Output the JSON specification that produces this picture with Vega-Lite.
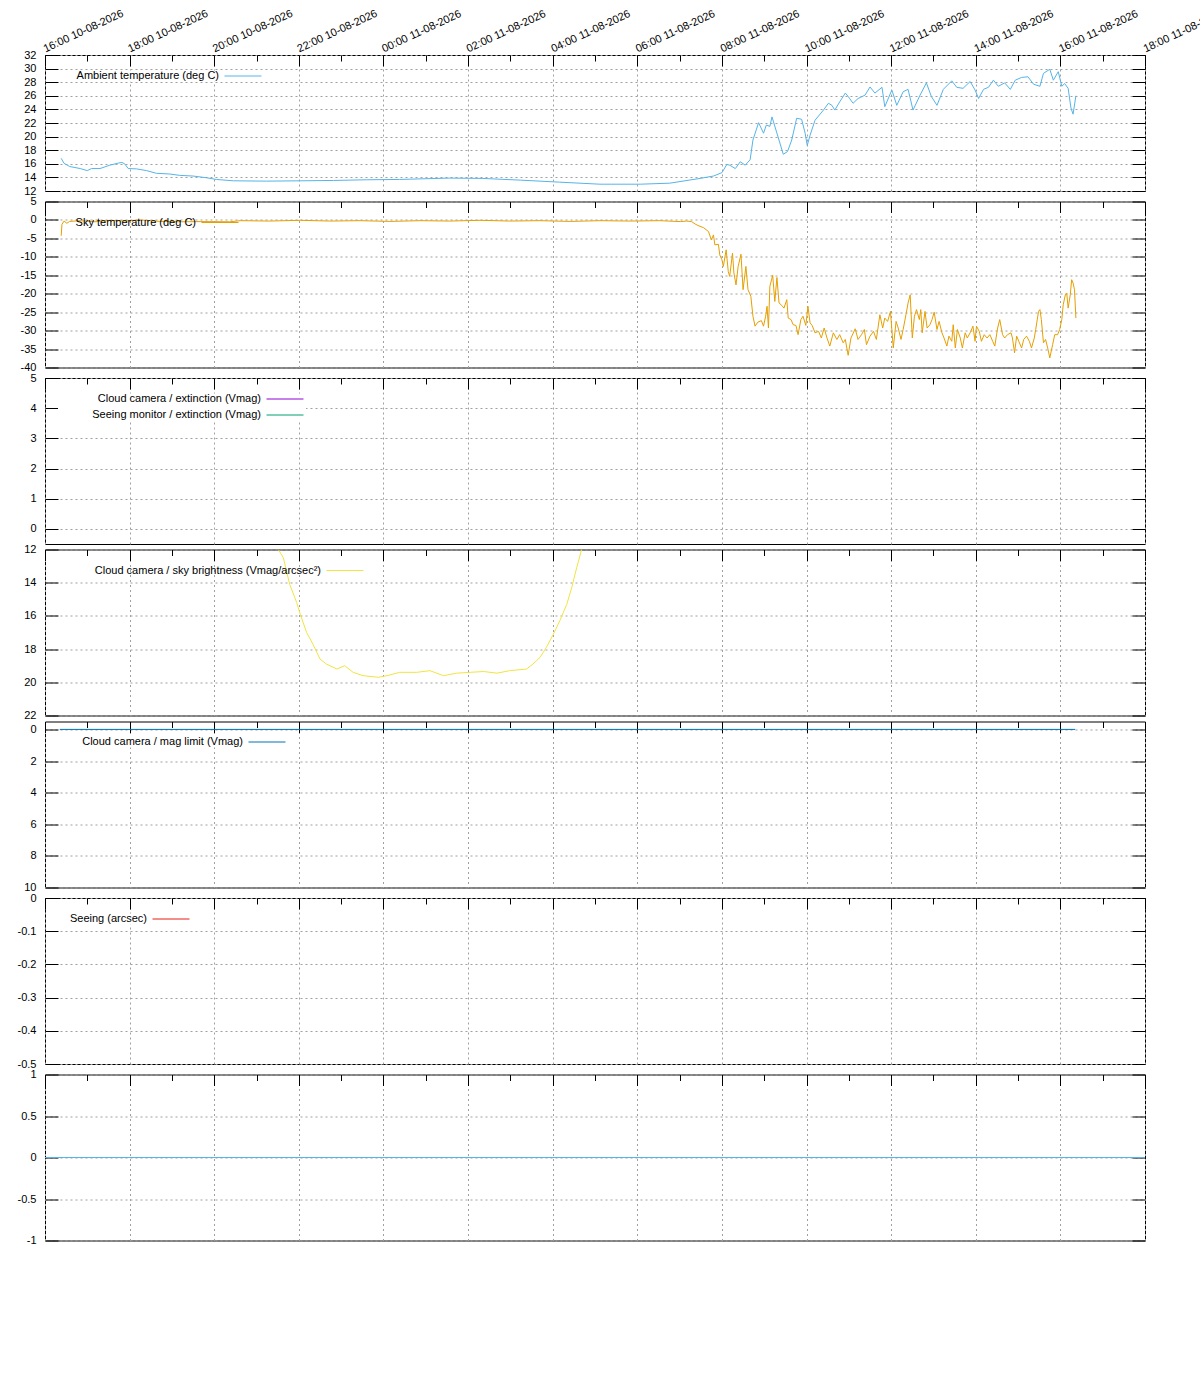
{
"$schema": "https://vega.github.io/schema/vega-lite/v6.json",
"background": "white",
"padding": {"left": 16, "top": 6, "right": 5, "bottom": 5},
"spacing": -2.5,
"resolve": {"scale": {"color": "independent", "x": "independent", "y": "independent"}, "legend": {"color": "independent"}},
"config": {
  "font": "Liberation Sans",
  "view": {"stroke": "black", "strokeWidth": 1},
  "axis": {"domain": false, "labelFont": "Liberation Sans", "labelFontSize": 11, "labelColor": "black", "tickColor": "black", "tickWidth": 1, "gridColor": "#a0a0a0", "gridDash": [2, 3], "gridWidth": 1},
  "legend": {"symbolType": "M-1,0H11.33", "symbolSize": 36, "symbolStrokeWidth": 1, "labelFont": "Liberation Sans", "labelFontSize": 11, "labelColor": "black", "labelAlign": "right", "labelOffset": -14, "labelLimit": 400, "rowPadding": 4, "padding": 0}
},
"datasets": {
  "ambient": [
    {"t":"2026-08-10T16:23","v":16.8},{"t":"2026-08-10T16:27","v":16.07},{"t":"2026-08-10T16:35","v":15.6},{"t":"2026-08-10T16:50","v":15.3},{"t":"2026-08-10T17:00","v":15.0},{"t":"2026-08-10T17:06","v":15.3},{"t":"2026-08-10T17:18","v":15.3},{"t":"2026-08-10T17:32","v":15.8},{"t":"2026-08-10T17:44","v":16.1},{"t":"2026-08-10T17:49","v":16.2},{"t":"2026-08-10T17:53","v":16.0},{"t":"2026-08-10T17:58","v":15.3},{"t":"2026-08-10T18:10","v":15.25},{"t":"2026-08-10T18:24","v":15.0},{"t":"2026-08-10T18:38","v":14.6},{"t":"2026-08-10T18:57","v":14.5},{"t":"2026-08-10T19:11","v":14.3},{"t":"2026-08-10T19:30","v":14.2},{"t":"2026-08-10T19:49","v":13.95},{"t":"2026-08-10T20:03","v":13.7},{"t":"2026-08-10T20:27","v":13.5},{"t":"2026-08-10T21:14","v":13.45},{"t":"2026-08-10T22:02","v":13.5},{"t":"2026-08-10T22:49","v":13.55},{"t":"2026-08-10T23:36","v":13.65},
    {"t":"2026-08-11T00:23","v":13.7},{"t":"2026-08-11T01:34","v":13.9},{"t":"2026-08-11T02:20","v":13.85},{"t":"2026-08-11T03:14","v":13.6},{"t":"2026-08-11T04:10","v":13.3},{"t":"2026-08-11T05:07","v":13.0},{"t":"2026-08-11T06:04","v":13.0},{"t":"2026-08-11T06:46","v":13.15},{"t":"2026-08-11T07:29","v":13.85},{"t":"2026-08-11T07:48","v":14.2},{"t":"2026-08-11T08:00","v":14.7},{"t":"2026-08-11T08:07","v":15.9},{"t":"2026-08-11T08:11","v":15.8},{"t":"2026-08-11T08:19","v":15.3},{"t":"2026-08-11T08:26","v":16.3},{"t":"2026-08-11T08:33","v":15.8},{"t":"2026-08-11T08:40","v":16.6},{"t":"2026-08-11T08:44","v":19.5},{"t":"2026-08-11T08:52","v":22.05},{"t":"2026-08-11T08:59","v":20.5},{"t":"2026-08-11T09:03","v":21.7},{"t":"2026-08-11T09:08","v":21.5},{"t":"2026-08-11T09:11","v":22.9},{"t":"2026-08-11T09:18","v":20.5},{"t":"2026-08-11T09:27","v":17.4},{"t":"2026-08-11T09:33","v":17.8},{"t":"2026-08-11T09:39","v":19.5},{"t":"2026-08-11T09:46","v":22.7},{"t":"2026-08-11T09:53","v":22.55},{"t":"2026-08-11T09:58","v":20.5},{"t":"2026-08-11T10:01","v":18.7},{"t":"2026-08-11T10:05","v":20.2},{"t":"2026-08-11T10:12","v":22.4},{"t":"2026-08-11T10:24","v":23.9},{"t":"2026-08-11T10:31","v":24.9},{"t":"2026-08-11T10:36","v":24.6},{"t":"2026-08-11T10:40","v":23.9},{"t":"2026-08-11T10:47","v":25.1},{"t":"2026-08-11T10:55","v":26.4},{"t":"2026-08-11T10:59","v":25.9},{"t":"2026-08-11T11:06","v":24.9},{"t":"2026-08-11T11:13","v":25.6},{"t":"2026-08-11T11:23","v":26.1},{"t":"2026-08-11T11:30","v":27.3},{"t":"2026-08-11T11:37","v":26.4},{"t":"2026-08-11T11:47","v":27.25},{"t":"2026-08-11T11:51","v":24.4},{"t":"2026-08-11T12:01","v":26.85},{"t":"2026-08-11T12:08","v":24.6},{"t":"2026-08-11T12:17","v":26.6},{"t":"2026-08-11T12:24","v":26.95},{"t":"2026-08-11T12:31","v":23.9},{"t":"2026-08-11T12:41","v":26.1},{"t":"2026-08-11T12:50","v":27.9},{"t":"2026-08-11T12:57","v":25.9},{"t":"2026-08-11T13:05","v":24.6},{"t":"2026-08-11T13:14","v":26.95},{"t":"2026-08-11T13:26","v":28.2},{"t":"2026-08-11T13:33","v":27.25},{"t":"2026-08-11T13:42","v":27.1},{"t":"2026-08-11T13:52","v":28.1},{"t":"2026-08-11T13:59","v":26.85},{"t":"2026-08-11T14:04","v":25.6},{"t":"2026-08-11T14:11","v":26.95},{"t":"2026-08-11T14:18","v":27.25},{"t":"2026-08-11T14:25","v":28.3},{"t":"2026-08-11T14:32","v":27.4},{"t":"2026-08-11T14:41","v":27.9},{"t":"2026-08-11T14:49","v":26.95},{"t":"2026-08-11T14:56","v":28.3},{"t":"2026-08-11T15:05","v":28.7},{"t":"2026-08-11T15:14","v":28.8},{"t":"2026-08-11T15:22","v":27.7},{"t":"2026-08-11T15:31","v":27.4},{"t":"2026-08-11T15:36","v":29.3},{"t":"2026-08-11T15:45","v":29.9},{"t":"2026-08-11T15:50","v":28.3},{"t":"2026-08-11T15:57","v":29.55},{"t":"2026-08-11T16:02","v":27.4},{"t":"2026-08-11T16:06","v":27.8},{"t":"2026-08-11T16:11","v":27.1},{"t":"2026-08-11T16:15","v":24.2},{"t":"2026-08-11T16:18","v":23.3},{"t":"2026-08-11T16:22","v":26.0}
  ],
  "sky": [
    {"t":"2026-08-10T16:23","v":-4.3},{"t":"2026-08-10T16:24","v":-1.2},{"t":"2026-08-10T16:27","v":-0.3},{"t":"2026-08-10T16:31","v":-0.9},{"t":"2026-08-10T16:35","v":-0.4},{"t":"2026-08-10T16:50","v":-0.2},{"t":"2026-08-10T17:11","v":-0.5},{"t":"2026-08-10T17:32","v":-0.1},{"t":"2026-08-10T17:53","v":-0.3},{"t":"2026-08-10T18:15","v":0.0},{"t":"2026-08-10T18:43","v":-0.4},{"t":"2026-08-10T19:11","v":-0.5},{"t":"2026-08-10T19:40","v":-0.45},{"t":"2026-08-10T20:22","v":-0.5},{"t":"2026-08-10T20:37","v":-0.2},{"t":"2026-08-10T21:19","v":-0.3},{"t":"2026-08-10T22:02","v":-0.1},{"t":"2026-08-10T22:44","v":-0.3},{"t":"2026-08-10T23:27","v":-0.2},
    {"t":"2026-08-11T00:09","v":-0.4},{"t":"2026-08-11T00:52","v":-0.2},{"t":"2026-08-11T01:34","v":-0.3},{"t":"2026-08-11T02:17","v":-0.1},{"t":"2026-08-11T02:59","v":-0.3},{"t":"2026-08-11T03:42","v":-0.2},{"t":"2026-08-11T04:25","v":-0.4},{"t":"2026-08-11T05:07","v":-0.2},{"t":"2026-08-11T05:50","v":-0.3},{"t":"2026-08-11T06:32","v":-0.2},{"t":"2026-08-11T07:01","v":-0.45},{"t":"2026-08-11T07:10","v":-0.3},{"t":"2026-08-11T07:17","v":-0.45},{"t":"2026-08-11T07:22","v":-1.1},{"t":"2026-08-11T07:26","v":-1.5},{"t":"2026-08-11T07:34","v":-2.1},{"t":"2026-08-11T07:41","v":-3.15},{"t":"2026-08-11T07:45","v":-5.4},{"t":"2026-08-11T07:48","v":-4.05},{"t":"2026-08-11T07:50","v":-6.75},{"t":"2026-08-11T07:55","v":-6.6},{"t":"2026-08-11T07:57","v":-9.5},{"t":"2026-08-11T08:00","v":-10.8},{"t":"2026-08-11T08:02","v":-12.6},{"t":"2026-08-11T08:06","v":-8.1},{"t":"2026-08-11T08:09","v":-14.0},{"t":"2026-08-11T08:11","v":-15.3},{"t":"2026-08-11T08:15","v":-9.0},{"t":"2026-08-11T08:17","v":-14.4},{"t":"2026-08-11T08:20","v":-17.6},{"t":"2026-08-11T08:23","v":-12.6},{"t":"2026-08-11T08:27","v":-9.3},{"t":"2026-08-11T08:30","v":-18.9},{"t":"2026-08-11T08:34","v":-12.6},{"t":"2026-08-11T08:37","v":-18.9},{"t":"2026-08-11T08:41","v":-20.7},{"t":"2026-08-11T08:44","v":-26.1},{"t":"2026-08-11T08:47","v":-28.8},{"t":"2026-08-11T08:51","v":-27.7},{"t":"2026-08-11T08:56","v":-27.3},{"t":"2026-08-11T08:59","v":-28.8},{"t":"2026-08-11T09:02","v":-26.1},{"t":"2026-08-11T09:04","v":-23.4},{"t":"2026-08-11T09:06","v":-29.3},{"t":"2026-08-11T09:08","v":-18.0},{"t":"2026-08-11T09:12","v":-15.0},{"t":"2026-08-11T09:15","v":-22.1},{"t":"2026-08-11T09:18","v":-15.6},{"t":"2026-08-11T09:21","v":-22.5},{"t":"2026-08-11T09:25","v":-23.2},{"t":"2026-08-11T09:28","v":-23.9},{"t":"2026-08-11T09:32","v":-21.6},{"t":"2026-08-11T09:34","v":-26.6},{"t":"2026-08-11T09:38","v":-27.0},{"t":"2026-08-11T09:41","v":-28.4},{"t":"2026-08-11T09:45","v":-28.6},{"t":"2026-08-11T09:48","v":-31.1},{"t":"2026-08-11T09:52","v":-27.0},{"t":"2026-08-11T09:55","v":-26.1},{"t":"2026-08-11T09:59","v":-28.6},{"t":"2026-08-11T10:02","v":-23.4},{"t":"2026-08-11T10:05","v":-27.9},{"t":"2026-08-11T10:08","v":-28.6},{"t":"2026-08-11T10:12","v":-30.6},{"t":"2026-08-11T10:17","v":-30.2},{"t":"2026-08-11T10:21","v":-32.0},{"t":"2026-08-11T10:25","v":-29.3},{"t":"2026-08-11T10:29","v":-32.0},{"t":"2026-08-11T10:33","v":-34.2},{"t":"2026-08-11T10:38","v":-30.6},{"t":"2026-08-11T10:43","v":-32.4},{"t":"2026-08-11T10:47","v":-31.1},{"t":"2026-08-11T10:52","v":-33.3},{"t":"2026-08-11T10:55","v":-32.4},{"t":"2026-08-11T10:59","v":-36.7},{"t":"2026-08-11T11:03","v":-32.0},{"t":"2026-08-11T11:09","v":-29.5},{"t":"2026-08-11T11:13","v":-32.4},{"t":"2026-08-11T11:18","v":-31.1},{"t":"2026-08-11T11:22","v":-29.7},{"t":"2026-08-11T11:25","v":-33.8},{"t":"2026-08-11T11:30","v":-31.5},{"t":"2026-08-11T11:35","v":-30.2},{"t":"2026-08-11T11:39","v":-32.4},{"t":"2026-08-11T11:44","v":-25.7},{"t":"2026-08-11T11:48","v":-29.3},{"t":"2026-08-11T11:51","v":-26.6},{"t":"2026-08-11T11:55","v":-27.5},{"t":"2026-08-11T11:59","v":-24.8},{"t":"2026-08-11T12:03","v":-34.7},{"t":"2026-08-11T12:07","v":-27.5},{"t":"2026-08-11T12:10","v":-29.3},
    {"t":"2026-08-11T12:14","v":-32.4},{"t":"2026-08-11T12:17","v":-29.7},{"t":"2026-08-11T12:21","v":-25.7},{"t":"2026-08-11T12:24","v":-22.5},{"t":"2026-08-11T12:27","v":-20.3},{"t":"2026-08-11T12:30","v":-32.0},{"t":"2026-08-11T12:33","v":-26.1},{"t":"2026-08-11T12:36","v":-24.3},{"t":"2026-08-11T12:40","v":-27.0},{"t":"2026-08-11T12:42","v":-24.3},{"t":"2026-08-11T12:44","v":-30.6},{"t":"2026-08-11T12:48","v":-24.8},{"t":"2026-08-11T12:51","v":-29.3},{"t":"2026-08-11T12:55","v":-28.4},{"t":"2026-08-11T12:58","v":-27.0},{"t":"2026-08-11T13:01","v":-25.0},{"t":"2026-08-11T13:05","v":-29.7},{"t":"2026-08-11T13:08","v":-27.5},{"t":"2026-08-11T13:12","v":-30.6},{"t":"2026-08-11T13:15","v":-32.0},{"t":"2026-08-11T13:19","v":-34.2},{"t":"2026-08-11T13:22","v":-31.5},{"t":"2026-08-11T13:26","v":-32.9},{"t":"2026-08-11T13:28","v":-28.4},{"t":"2026-08-11T13:31","v":-34.7},{"t":"2026-08-11T13:34","v":-29.7},{"t":"2026-08-11T13:38","v":-32.0},{"t":"2026-08-11T13:41","v":-34.7},{"t":"2026-08-11T13:45","v":-30.6},{"t":"2026-08-11T13:48","v":-32.0},{"t":"2026-08-11T13:52","v":-30.6},{"t":"2026-08-11T13:56","v":-28.8},{"t":"2026-08-11T13:59","v":-32.9},{"t":"2026-08-11T14:01","v":-28.8},{"t":"2026-08-11T14:05","v":-30.2},{"t":"2026-08-11T14:08","v":-32.9},{"t":"2026-08-11T14:12","v":-31.1},{"t":"2026-08-11T14:16","v":-32.0},{"t":"2026-08-11T14:20","v":-31.1},{"t":"2026-08-11T14:24","v":-32.9},{"t":"2026-08-11T14:27","v":-34.2},{"t":"2026-08-11T14:31","v":-29.3},{"t":"2026-08-11T14:34","v":-27.0},{"t":"2026-08-11T14:38","v":-31.1},{"t":"2026-08-11T14:41","v":-32.0},{"t":"2026-08-11T14:45","v":-31.1},{"t":"2026-08-11T14:50","v":-30.6},{"t":"2026-08-11T14:52","v":-32.0},{"t":"2026-08-11T14:55","v":-36.0},{"t":"2026-08-11T14:58","v":-31.5},{"t":"2026-08-11T15:01","v":-32.9},{"t":"2026-08-11T15:05","v":-34.7},{"t":"2026-08-11T15:08","v":-32.4},{"t":"2026-08-11T15:12","v":-31.5},{"t":"2026-08-11T15:16","v":-32.9},{"t":"2026-08-11T15:19","v":-34.7},{"t":"2026-08-11T15:23","v":-32.0},{"t":"2026-08-11T15:25","v":-29.7},{"t":"2026-08-11T15:29","v":-24.8},{"t":"2026-08-11T15:31","v":-24.3},{"t":"2026-08-11T15:33","v":-27.0},{"t":"2026-08-11T15:36","v":-33.3},{"t":"2026-08-11T15:39","v":-32.4},{"t":"2026-08-11T15:42","v":-34.7},{"t":"2026-08-11T15:45","v":-37.4},{"t":"2026-08-11T15:49","v":-33.8},{"t":"2026-08-11T15:52","v":-31.1},{"t":"2026-08-11T15:56","v":-31.1},{"t":"2026-08-11T15:59","v":-29.7},{"t":"2026-08-11T16:02","v":-27.0},{"t":"2026-08-11T16:04","v":-23.0},{"t":"2026-08-11T16:07","v":-20.3},{"t":"2026-08-11T16:09","v":-19.8},{"t":"2026-08-11T16:11","v":-23.9},{"t":"2026-08-11T16:14","v":-20.3},{"t":"2026-08-11T16:16","v":-16.2},{"t":"2026-08-11T16:18","v":-17.1},{"t":"2026-08-11T16:20","v":-18.9},{"t":"2026-08-11T16:22","v":-26.6}
  ],
  "bright": [
    {"t":"2026-08-10T21:31","v":12.0},{"t":"2026-08-10T21:38","v":12.5},{"t":"2026-08-10T21:47","v":14.1},{"t":"2026-08-10T21:57","v":15.2},{"t":"2026-08-10T22:02","v":15.9},{"t":"2026-08-10T22:11","v":17.0},{"t":"2026-08-10T22:20","v":17.7},{"t":"2026-08-10T22:30","v":18.6},{"t":"2026-08-10T22:39","v":18.9},{"t":"2026-08-10T22:54","v":19.2},{"t":"2026-08-10T23:05","v":19.0},{"t":"2026-08-10T23:17","v":19.4},{"t":"2026-08-10T23:31","v":19.6},{"t":"2026-08-10T23:53","v":19.7},{"t":"2026-08-11T00:05","v":19.6},{"t":"2026-08-11T00:23","v":19.4},{"t":"2026-08-11T00:47","v":19.4},{"t":"2026-08-11T01:06","v":19.3},{"t":"2026-08-11T01:25","v":19.6},{"t":"2026-08-11T01:44","v":19.45},{"t":"2026-08-11T02:03","v":19.4},{"t":"2026-08-11T02:22","v":19.35},{"t":"2026-08-11T02:41","v":19.45},{"t":"2026-08-11T02:59","v":19.3},{"t":"2026-08-11T03:23","v":19.2},{"t":"2026-08-11T03:32","v":18.9},{"t":"2026-08-11T03:42","v":18.5},{"t":"2026-08-11T03:51","v":17.9},{"t":"2026-08-11T04:01","v":17.1},{"t":"2026-08-11T04:10","v":16.3},{"t":"2026-08-11T04:20","v":15.3},{"t":"2026-08-11T04:27","v":14.3},{"t":"2026-08-11T04:34","v":13.1},{"t":"2026-08-11T04:41","v":12.0}
  ],
  "maglim": [
    {"t":"2026-08-10T16:21","v":0},{"t":"2026-08-11T16:21","v":0}
  ],
  "nodata": [
    {"t":"2026-08-10T16:00","v":null}
  ],
  "zero7": [
    {"t":"2026-08-10T16:00","v":0},{"t":"2026-08-11T18:00","v":0}
  ]
},
"vconcat": [
  {
    "width": 1100, "height": 136,
    "data": {"name": "ambient"},
    "layer": [
      {"mark": {"type": "line", "strokeWidth": 1, "clip": true},
       "encoding": {
         "x": {"field": "t", "type": "temporal", "scale": {"domain": [{"year":2026,"month":8,"date":10,"hours":16},{"year":2026,"month":8,"date":11,"hours":18}], "nice": false},
               "axis": {"orient": "top", "title": null, "values": [{"year":2026,"month":8,"date":10,"hours":16},{"year":2026,"month":8,"date":10,"hours":18},{"year":2026,"month":8,"date":10,"hours":20},{"year":2026,"month":8,"date":10,"hours":22},{"year":2026,"month":8,"date":11,"hours":0},{"year":2026,"month":8,"date":11,"hours":2},{"year":2026,"month":8,"date":11,"hours":4},{"year":2026,"month":8,"date":11,"hours":6},{"year":2026,"month":8,"date":11,"hours":8},{"year":2026,"month":8,"date":11,"hours":10},{"year":2026,"month":8,"date":11,"hours":12},{"year":2026,"month":8,"date":11,"hours":14},{"year":2026,"month":8,"date":11,"hours":16},{"year":2026,"month":8,"date":11,"hours":18}],
                        "format": "%H:%M %d-%m-%Y", "labelAngle": -25, "labelAlign": "left", "labelBaseline": "alphabetic", "labelPadding": 3, "tickSize": 11, "offset": -11, "grid": true, "labelOverlap": false, "labelFlush": false, "labelBound": false}},
         "y": {"field": "v", "type": "quantitative", "scale": {"domain": [12, 32], "nice": false, "zero": false},
               "axis": {"orient": "left", "title": null, "values": [12,14,16,18,20,22,24,26,28,30,32], "tickSize": 13, "offset": -13, "labelPadding": 9, "grid": true, "labelExpr": "'' + datum.value"}},
         "color": {"datum": "Ambient temperature (deg C)", "type": "nominal", "scale": {"domain": ["Ambient temperature (deg C)"], "range": ["#56b4e9"]},
               "legend": {"title": null, "orient": "none", "legendX": 13, "legendY": 15.5, "symbolOffset": 164, "fillColor": "white"}}
       }},
      {"mark": {"type": "line", "opacity": 0},
       "encoding": {
         "x": {"field": "t", "type": "temporal", "scale": {"domain": [{"year":2026,"month":8,"date":10,"hours":16},{"year":2026,"month":8,"date":11,"hours":18}], "nice": false},
               "axis": {"orient": "top", "title": null, "tickCount": 26, "tickSize": 6, "offset": -6, "labels": false, "grid": false}},
         "y": {"field": "v", "type": "quantitative", "scale": {"domain": [12, 32], "nice": false, "zero": false},
               "axis": {"orient": "right", "title": null, "values": [12,14,16,18,20,22,24,26,28,30,32], "tickSize": 13, "offset": -13, "labels": false, "grid": false}}
       }}
    ],
    "resolve": {"axis": {"x": "independent", "y": "independent"}}
  },
  {
    "width": 1100, "height": 166,
    "data": {"name": "sky"},
    "layer": [
      {"mark": {"type": "line", "strokeWidth": 1, "clip": true},
       "encoding": {
         "x": {"field": "t", "type": "temporal", "scale": {"domain": [{"year":2026,"month":8,"date":10,"hours":16},{"year":2026,"month":8,"date":11,"hours":18}], "nice": false},
               "axis": {"orient": "top", "title": null, "labels": false, "tickSize": 11, "offset": -11, "grid": true, "values": [{"year":2026,"month":8,"date":10,"hours":16},{"year":2026,"month":8,"date":10,"hours":18},{"year":2026,"month":8,"date":10,"hours":20},{"year":2026,"month":8,"date":10,"hours":22},{"year":2026,"month":8,"date":11,"hours":0},{"year":2026,"month":8,"date":11,"hours":2},{"year":2026,"month":8,"date":11,"hours":4},{"year":2026,"month":8,"date":11,"hours":6},{"year":2026,"month":8,"date":11,"hours":8},{"year":2026,"month":8,"date":11,"hours":10},{"year":2026,"month":8,"date":11,"hours":12},{"year":2026,"month":8,"date":11,"hours":14},{"year":2026,"month":8,"date":11,"hours":16},{"year":2026,"month":8,"date":11,"hours":18}]}},
         "y": {"field": "v", "type": "quantitative", "scale": {"domain": [-40, 5], "nice": false, "zero": false},
               "axis": {"orient": "left", "title": null, "values": [-40,-35,-30,-25,-20,-15,-10,-5,0,5], "tickSize": 13, "offset": -13, "labelPadding": 9, "grid": true, "labelExpr": "'' + datum.value"}},
         "color": {"datum": "Sky temperature (deg C)", "type": "nominal", "scale": {"domain": ["Sky temperature (deg C)"], "range": ["#e69f00"]},
               "legend": {"title": null, "orient": "none", "legendX": 13, "legendY": 15.5, "symbolOffset": 141}}
       }},
      {"mark": {"type": "line", "opacity": 0},
       "encoding": {
         "x": {"field": "t", "type": "temporal", "scale": {"domain": [{"year":2026,"month":8,"date":10,"hours":16},{"year":2026,"month":8,"date":11,"hours":18}], "nice": false},
               "axis": {"orient": "top", "title": null, "tickCount": 26, "tickSize": 6, "offset": -6, "labels": false, "grid": false}},
         "y": {"field": "v", "type": "quantitative", "scale": {"domain": [-40, 5], "nice": false, "zero": false},
               "axis": {"orient": "right", "title": null, "values": [-40,-35,-30,-25,-20,-15,-10,-5,0,5], "tickSize": 13, "offset": -13, "labels": false, "grid": false}}
       }}
    ],
    "resolve": {"axis": {"x": "independent", "y": "independent"}}
  },
  {
    "width": 1100, "height": 166,
    "data": {"name": "nodata"},
    "layer": [
      {"mark": {"type": "line", "strokeWidth": 1, "clip": true},
       "encoding": {
         "x": {"field": "t", "type": "temporal", "scale": {"domain": [{"year":2026,"month":8,"date":10,"hours":16},{"year":2026,"month":8,"date":11,"hours":18}], "nice": false},
               "axis": {"orient": "top", "title": null, "labels": false, "tickSize": 11, "offset": -11, "grid": true, "values": [{"year":2026,"month":8,"date":10,"hours":16},{"year":2026,"month":8,"date":10,"hours":18},{"year":2026,"month":8,"date":10,"hours":20},{"year":2026,"month":8,"date":10,"hours":22},{"year":2026,"month":8,"date":11,"hours":0},{"year":2026,"month":8,"date":11,"hours":2},{"year":2026,"month":8,"date":11,"hours":4},{"year":2026,"month":8,"date":11,"hours":6},{"year":2026,"month":8,"date":11,"hours":8},{"year":2026,"month":8,"date":11,"hours":10},{"year":2026,"month":8,"date":11,"hours":12},{"year":2026,"month":8,"date":11,"hours":14},{"year":2026,"month":8,"date":11,"hours":16},{"year":2026,"month":8,"date":11,"hours":18}]}},
         "y": {"field": "v", "type": "quantitative", "scale": {"domain": [-0.5, 5], "nice": false, "zero": false},
               "axis": {"orient": "left", "title": null, "values": [0,1,2,3,4,5], "tickSize": 13, "offset": -13, "labelPadding": 9, "grid": true, "labelExpr": "'' + datum.value"}},
         "color": {"field": "s", "type": "nominal", "scale": {"domain": ["Cloud camera / extinction (Vmag)", "Seeing monitor / extinction (Vmag)"], "range": ["#9400d3", "#009e73"]}, "sort": null,
               "legend": {"title": null, "orient": "none", "legendX": 13, "legendY": 15.5, "symbolOffset": 206, "fillColor": "white"}}
       }},
      {"mark": {"type": "line", "opacity": 0},
       "encoding": {
         "x": {"field": "t", "type": "temporal", "scale": {"domain": [{"year":2026,"month":8,"date":10,"hours":16},{"year":2026,"month":8,"date":11,"hours":18}], "nice": false},
               "axis": {"orient": "top", "title": null, "tickCount": 26, "tickSize": 6, "offset": -6, "labels": false, "grid": false}},
         "y": {"field": "v", "type": "quantitative", "scale": {"domain": [-0.5, 5], "nice": false, "zero": false},
               "axis": {"orient": "right", "title": null, "values": [0,1,2,3,4,5], "tickSize": 13, "offset": -13, "labels": false, "grid": false}}
       }}
    ],
    "resolve": {"axis": {"x": "independent", "y": "independent"}}
  },
  {
    "width": 1100, "height": 166,
    "data": {"name": "bright"},
    "layer": [
      {"mark": {"type": "line", "strokeWidth": 1, "clip": true},
       "encoding": {
         "x": {"field": "t", "type": "temporal", "scale": {"domain": [{"year":2026,"month":8,"date":10,"hours":16},{"year":2026,"month":8,"date":11,"hours":18}], "nice": false},
               "axis": {"orient": "top", "title": null, "labels": false, "tickSize": 11, "offset": -11, "grid": true, "values": [{"year":2026,"month":8,"date":10,"hours":16},{"year":2026,"month":8,"date":10,"hours":18},{"year":2026,"month":8,"date":10,"hours":20},{"year":2026,"month":8,"date":10,"hours":22},{"year":2026,"month":8,"date":11,"hours":0},{"year":2026,"month":8,"date":11,"hours":2},{"year":2026,"month":8,"date":11,"hours":4},{"year":2026,"month":8,"date":11,"hours":6},{"year":2026,"month":8,"date":11,"hours":8},{"year":2026,"month":8,"date":11,"hours":10},{"year":2026,"month":8,"date":11,"hours":12},{"year":2026,"month":8,"date":11,"hours":14},{"year":2026,"month":8,"date":11,"hours":16},{"year":2026,"month":8,"date":11,"hours":18}]}},
         "y": {"field": "v", "type": "quantitative", "scale": {"domain": [12, 22], "reverse": true, "nice": false, "zero": false},
               "axis": {"orient": "left", "title": null, "values": [12,14,16,18,20,22], "tickSize": 13, "offset": -13, "labelPadding": 9, "grid": true, "labelExpr": "'' + datum.value"}},
         "color": {"datum": "Cloud camera / sky brightness (Vmag/arcsec²)", "type": "nominal", "scale": {"domain": ["Cloud camera / sky brightness (Vmag/arcsec²)"], "range": ["#f0e442"]},
               "legend": {"title": null, "orient": "none", "legendX": 13, "legendY": 15.5, "symbolOffset": 266}}
       }},
      {"mark": {"type": "line", "opacity": 0},
       "encoding": {
         "x": {"field": "t", "type": "temporal", "scale": {"domain": [{"year":2026,"month":8,"date":10,"hours":16},{"year":2026,"month":8,"date":11,"hours":18}], "nice": false},
               "axis": {"orient": "top", "title": null, "tickCount": 26, "tickSize": 6, "offset": -6, "labels": false, "grid": false}},
         "y": {"field": "v", "type": "quantitative", "scale": {"domain": [12, 22], "reverse": true, "nice": false, "zero": false},
               "axis": {"orient": "right", "title": null, "values": [12,14,16,18,20,22], "tickSize": 13, "offset": -13, "labels": false, "grid": false}}
       }}
    ],
    "resolve": {"axis": {"x": "independent", "y": "independent"}}
  },
  {
    "width": 1100, "height": 166,
    "data": {"name": "maglim"},
    "layer": [
      {"mark": {"type": "line", "strokeWidth": 1, "clip": true},
       "encoding": {
         "x": {"field": "t", "type": "temporal", "scale": {"domain": [{"year":2026,"month":8,"date":10,"hours":16},{"year":2026,"month":8,"date":11,"hours":18}], "nice": false},
               "axis": {"orient": "top", "title": null, "labels": false, "tickSize": 11, "offset": -11, "grid": true, "values": [{"year":2026,"month":8,"date":10,"hours":16},{"year":2026,"month":8,"date":10,"hours":18},{"year":2026,"month":8,"date":10,"hours":20},{"year":2026,"month":8,"date":10,"hours":22},{"year":2026,"month":8,"date":11,"hours":0},{"year":2026,"month":8,"date":11,"hours":2},{"year":2026,"month":8,"date":11,"hours":4},{"year":2026,"month":8,"date":11,"hours":6},{"year":2026,"month":8,"date":11,"hours":8},{"year":2026,"month":8,"date":11,"hours":10},{"year":2026,"month":8,"date":11,"hours":12},{"year":2026,"month":8,"date":11,"hours":14},{"year":2026,"month":8,"date":11,"hours":16},{"year":2026,"month":8,"date":11,"hours":18}]}},
         "y": {"field": "v", "type": "quantitative", "scale": {"domain": [-0.5, 10], "reverse": true, "nice": false, "zero": false},
               "axis": {"orient": "left", "title": null, "values": [0,2,4,6,8,10], "tickSize": 13, "offset": -13, "labelPadding": 9, "grid": true, "labelExpr": "'' + datum.value"}},
         "color": {"datum": "Cloud camera / mag limit (Vmag)", "type": "nominal", "scale": {"domain": ["Cloud camera / mag limit (Vmag)"], "range": ["#0072b2"]},
               "legend": {"title": null, "orient": "none", "legendX": 13, "legendY": 15, "symbolOffset": 188, "fillColor": "white"}}
       }},
      {"mark": {"type": "line", "opacity": 0},
       "encoding": {
         "x": {"field": "t", "type": "temporal", "scale": {"domain": [{"year":2026,"month":8,"date":10,"hours":16},{"year":2026,"month":8,"date":11,"hours":18}], "nice": false},
               "axis": {"orient": "top", "title": null, "tickCount": 26, "tickSize": 6, "offset": -6, "labels": false, "grid": false}},
         "y": {"field": "v", "type": "quantitative", "scale": {"domain": [-0.5, 10], "reverse": true, "nice": false, "zero": false},
               "axis": {"orient": "right", "title": null, "values": [0,2,4,6,8,10], "tickSize": 13, "offset": -13, "labels": false, "grid": false}}
       }}
    ],
    "resolve": {"axis": {"x": "independent", "y": "independent"}}
  },
  {
    "width": 1100, "height": 166,
    "data": {"name": "nodata"},
    "layer": [
      {"mark": {"type": "line", "strokeWidth": 1, "clip": true},
       "encoding": {
         "x": {"field": "t", "type": "temporal", "scale": {"domain": [{"year":2026,"month":8,"date":10,"hours":16},{"year":2026,"month":8,"date":11,"hours":18}], "nice": false},
               "axis": {"orient": "top", "title": null, "labels": false, "tickSize": 11, "offset": -11, "grid": true, "values": [{"year":2026,"month":8,"date":10,"hours":16},{"year":2026,"month":8,"date":10,"hours":18},{"year":2026,"month":8,"date":10,"hours":20},{"year":2026,"month":8,"date":10,"hours":22},{"year":2026,"month":8,"date":11,"hours":0},{"year":2026,"month":8,"date":11,"hours":2},{"year":2026,"month":8,"date":11,"hours":4},{"year":2026,"month":8,"date":11,"hours":6},{"year":2026,"month":8,"date":11,"hours":8},{"year":2026,"month":8,"date":11,"hours":10},{"year":2026,"month":8,"date":11,"hours":12},{"year":2026,"month":8,"date":11,"hours":14},{"year":2026,"month":8,"date":11,"hours":16},{"year":2026,"month":8,"date":11,"hours":18}]}},
         "y": {"field": "v", "type": "quantitative", "scale": {"domain": [-0.5, 0], "nice": false, "zero": false},
               "axis": {"orient": "left", "title": null, "values": [-0.5,-0.4,-0.3,-0.2,-0.1,0], "tickSize": 13, "offset": -13, "labelPadding": 9, "grid": true, "labelExpr": "'' + datum.value"}},
         "color": {"datum": "Seeing (arcsec)", "type": "nominal", "scale": {"domain": ["Seeing (arcsec)"], "range": ["#e51e10"]},
               "legend": {"title": null, "orient": "none", "legendX": 13, "legendY": 15.5, "symbolOffset": 92, "fillColor": "white"}}
       }},
      {"mark": {"type": "line", "opacity": 0},
       "encoding": {
         "x": {"field": "t", "type": "temporal", "scale": {"domain": [{"year":2026,"month":8,"date":10,"hours":16},{"year":2026,"month":8,"date":11,"hours":18}], "nice": false},
               "axis": {"orient": "top", "title": null, "tickCount": 26, "tickSize": 6, "offset": -6, "labels": false, "grid": false}},
         "y": {"field": "v", "type": "quantitative", "scale": {"domain": [-0.5, 0], "nice": false, "zero": false},
               "axis": {"orient": "right", "title": null, "values": [-0.5,-0.4,-0.3,-0.2,-0.1,0], "tickSize": 13, "offset": -13, "labels": false, "grid": false}}
       }}
    ],
    "resolve": {"axis": {"x": "independent", "y": "independent"}}
  },
  {
    "width": 1100, "height": 166,
    "data": {"name": "zero7"},
    "layer": [
      {"mark": {"type": "line", "strokeWidth": 1, "clip": true, "color": "#56b4e9"},
       "encoding": {
         "x": {"field": "t", "type": "temporal", "scale": {"domain": [{"year":2026,"month":8,"date":10,"hours":16},{"year":2026,"month":8,"date":11,"hours":18}], "nice": false},
               "axis": {"orient": "top", "title": null, "labels": false, "tickSize": 11, "offset": -11, "grid": true, "values": [{"year":2026,"month":8,"date":10,"hours":16},{"year":2026,"month":8,"date":10,"hours":18},{"year":2026,"month":8,"date":10,"hours":20},{"year":2026,"month":8,"date":10,"hours":22},{"year":2026,"month":8,"date":11,"hours":0},{"year":2026,"month":8,"date":11,"hours":2},{"year":2026,"month":8,"date":11,"hours":4},{"year":2026,"month":8,"date":11,"hours":6},{"year":2026,"month":8,"date":11,"hours":8},{"year":2026,"month":8,"date":11,"hours":10},{"year":2026,"month":8,"date":11,"hours":12},{"year":2026,"month":8,"date":11,"hours":14},{"year":2026,"month":8,"date":11,"hours":16},{"year":2026,"month":8,"date":11,"hours":18}]}},
         "y": {"field": "v", "type": "quantitative", "scale": {"domain": [-1, 1], "nice": false, "zero": false},
               "axis": {"orient": "left", "title": null, "values": [-1,-0.5,0,0.5,1], "tickSize": 13, "offset": -13, "labelPadding": 9, "grid": true, "labelExpr": "'' + datum.value"}}
       }},
      {"mark": {"type": "line", "opacity": 0},
       "encoding": {
         "x": {"field": "t", "type": "temporal", "scale": {"domain": [{"year":2026,"month":8,"date":10,"hours":16},{"year":2026,"month":8,"date":11,"hours":18}], "nice": false},
               "axis": {"orient": "top", "title": null, "tickCount": 26, "tickSize": 6, "offset": -6, "labels": false, "grid": false}},
         "y": {"field": "v", "type": "quantitative", "scale": {"domain": [-1, 1], "nice": false, "zero": false},
               "axis": {"orient": "right", "title": null, "values": [-1,-0.5,0,0.5,1], "tickSize": 13, "offset": -13, "labels": false, "grid": false}}
       }}
    ],
    "resolve": {"axis": {"x": "independent", "y": "independent"}}
  }
]
}
